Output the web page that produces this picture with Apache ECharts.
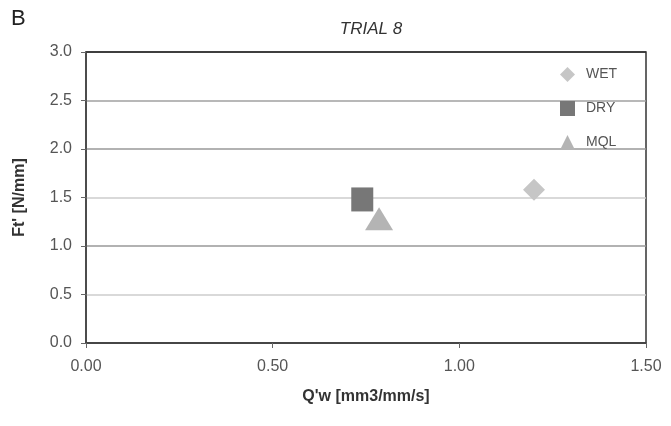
<!DOCTYPE html>
<html>
<head>
<meta charset="utf-8">
<script src="https://cdn.jsdelivr.net/npm/echarts@6/dist/echarts.min.js"></script>
<style>html,body{margin:0;padding:0;background:#fff}#c{width:671px;height:426px}</style>
</head>
<body>
<div id="c"></div>
<script>
const seriesNames = ['WET', 'DRY', 'MQL'];
const wetPoints = [[1.20, 1.58]];
const dryPoints = [[0.74, 1.48]];
const mqlPoints = [[0.785, 1.28]];
const xTicks = ['0.00', '0.50', '1.00', '1.50'];
const yTicks = ['0.0', '0.5', '1.0', '1.5', '2.0', '2.5', '3.0'];

const chart = echarts.init(document.getElementById('c'));
const font = 'Liberation Sans, Arial, sans-serif';
chart.setOption({
  animation: false,
  backgroundColor: '#fff',
  title: [
    { text: 'B', left: 6, top: 3, textStyle: { fontFamily: font, fontSize: 22, fontWeight: 'normal', color: '#222' } },
    { text: 'TRIAL 8', left: 366, top: 16, textAlign: 'center', textStyle: { fontFamily: font, fontSize: 17, fontStyle: 'italic', fontWeight: 'normal', color: '#333' } }
  ],
  grid: { left: 86, right: 25, top: 52, bottom: 83, show: true, borderColor: '#333', borderWidth: 1.5, backgroundColor: '#fff' },
  legend: {
    orient: 'vertical', left: 555, top: 62, itemWidth: 15, itemHeight: 15, itemGap: 19,
    data: seriesNames,
    textStyle: { fontFamily: font, fontSize: 14, color: '#555', padding: [0, 0, 0, 6] }
  },
  xAxis: {
    type: 'value', min: 0, max: 1.5, interval: 0.5,
    name: "Q'w [mm3/mm/s]", nameLocation: 'middle', nameGap: 46,
    nameTextStyle: { fontFamily: font, fontSize: 16, fontWeight: 'bold', color: '#333' },
    axisLine: { show: true, lineStyle: { color: '#444', width: 1.5 } },
    axisTick: { show: true, length: 5, lineStyle: { color: '#666' } },
    axisLabel: { fontFamily: font, fontSize: 16, color: '#555', margin: 16, formatter: (v) => xTicks[Math.round(v / 0.5)] },
    splitLine: { show: false }
  },
  yAxis: {
    type: 'value', min: 0, max: 3, interval: 0.5,
    name: "Ft' [N/mm]", nameLocation: 'middle', nameGap: 58,
    nameTextStyle: { fontFamily: font, fontSize: 16, fontWeight: 'bold', color: '#333' },
    axisLine: { show: true, lineStyle: { color: '#444', width: 1.5 } },
    axisTick: { show: true, length: 5, lineStyle: { color: '#666' } },
    axisLabel: { fontFamily: font, fontSize: 16, color: '#555', margin: 14, formatter: (v) => yTicks[Math.round(v / 0.5)] },
    splitLine: { show: true, lineStyle: { width: 1.5, color: ['#444', '#cccccc', '#999999', '#cccccc', '#999999', '#a0a0a0', '#333'] } }
  },
  series: [
    { name: 'WET', type: 'scatter', data: wetPoints, symbol: 'diamond', symbolSize: [22, 22], itemStyle: { color: '#c6c6c6', opacity: 1 } },
    { name: 'DRY', type: 'scatter', data: dryPoints, symbol: 'rect', symbolSize: [22, 24], itemStyle: { color: '#777777', opacity: 1 } },
    { name: 'MQL', type: 'scatter', data: mqlPoints, symbol: 'triangle', symbolSize: [28, 23], itemStyle: { color: '#b4b4b4', opacity: 1 } }
  ]
});
</script>
</body>
</html>
